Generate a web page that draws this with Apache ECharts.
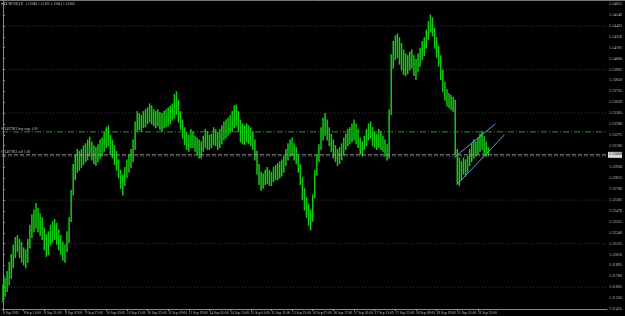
<!DOCTYPE html>
<html><head><meta charset="utf-8">
<script src="https://cdn.jsdelivr.net/npm/echarts@6/dist/echarts.min.js"></script>
<style>html,body{margin:0;padding:0;background:#000;}#c{width:625px;height:316px;}</style>
</head><body><div id="c"></div>
<script>
const symbolTitle = '\u25BE EURUSD,H1  1.13048 1.13105 1.13041 1.13060';

const xLabels = ['8 Sep 2015','8 Sep 11:00','8 Sep 21:00','9 Sep 07:00','9 Sep 17:00','10 Sep 03:00',
  '10 Sep 13:00','10 Sep 23:00','11 Sep 09:00','11 Sep 19:00','14 Sep 05:00','14 Sep 15:00',
  '15 Sep 01:00','15 Sep 11:00','15 Sep 21:00','16 Sep 07:00','16 Sep 17:00','17 Sep 03:00',
  '17 Sep 13:00','17 Sep 23:00','18 Sep 09:00','18 Sep 19:00','21 Sep 05:00','21 Sep 15:00'];

const highs = [
1.1169,1.1176,1.1183,1.1193,1.1201,1.1211,1.1219,1.1221,1.1217,1.1214,
1.1208,1.1206,1.1217,1.1232,1.1243,1.1248,1.1255,1.1250,1.1244,1.1240,
1.1229,1.1222,1.1225,1.1232,1.1236,1.1238,1.1234,1.1227,1.1221,1.1214,
1.1211,1.1225,1.1240,1.1269,1.1296,1.1306,1.1312,1.1310,1.1312,1.1316,
1.1318,1.1322,1.1325,1.1320,1.1316,1.1314,1.1317,1.1322,1.1324,1.1330,
1.1335,1.1337,1.1327,1.1322,1.1316,1.1310,1.1301,1.1290,1.1285,1.1293,
1.1301,1.1306,1.1312,1.1322,1.1341,1.1352,1.1350,1.1348,1.1352,1.1354,
1.1356,1.1360,1.1358,1.1354,1.1352,1.1354,1.1351,1.1350,1.1352,1.1354,
1.1356,1.1358,1.1360,1.1370,1.1373,1.1364,1.1352,1.1343,1.1335,1.1330,
1.1327,1.1333,1.1331,1.1326,1.1324,1.1322,1.1320,1.1326,1.1333,1.1331,
1.1327,1.1328,1.1335,1.1333,1.1330,1.1333,1.1337,1.1341,1.1343,1.1345,
1.1348,1.1352,1.1358,1.1359,1.1352,1.1343,1.1339,1.1337,1.1339,1.1337,
1.1335,1.1331,1.1322,1.1310,1.1296,1.1288,1.1286,1.1290,1.1293,1.1290,
1.1288,1.1293,1.1295,1.1297,1.1299,1.1301,1.1305,1.1312,1.1318,1.1322,
1.1324,1.1318,1.1314,1.1306,1.1296,1.1282,1.1271,1.1261,1.1254,1.1248,
1.1264,1.1290,1.1306,1.1317,1.1335,1.1345,1.1350,1.1343,1.1335,1.1328,
1.1322,1.1316,1.1312,1.1314,1.1318,1.1324,1.1328,1.1333,1.1335,1.1339,
1.1343,1.1339,1.1333,1.1324,1.1320,1.1326,1.1333,1.1339,1.1341,1.1335,
1.1331,1.1328,1.1333,1.1331,1.1326,1.1322,1.1317,1.1354,1.1412,1.1426,
1.1432,1.1434,1.1430,1.1424,1.1417,1.1413,1.1411,1.1415,1.1417,1.1411,
1.1407,1.1413,1.1419,1.1426,1.1430,1.1438,1.1447,1.1454,1.1451,1.1440,
1.1430,1.1421,1.1411,1.1396,1.1383,1.1375,1.1371,1.1369,1.1367,1.1364,
1.1312,1.1303,1.1299,1.1303,1.1301,1.1305,1.1312,1.1318,1.1322,1.1320,
1.1324,1.1328,1.1331,1.1326,1.1320,1.1314];

const lows = [
1.1151,1.1157,1.1162,1.1169,1.1176,1.1187,1.1198,1.1204,1.1198,1.1193,
1.1190,1.1187,1.1193,1.1208,1.1219,1.1225,1.1229,1.1225,1.1221,1.1217,
1.1206,1.1199,1.1201,1.1211,1.1214,1.1217,1.1212,1.1206,1.1201,1.1195,
1.1193,1.1204,1.1214,1.1236,1.1264,1.1280,1.1288,1.1290,1.1293,1.1296,
1.1299,1.1301,1.1305,1.1301,1.1297,1.1295,1.1299,1.1303,1.1305,1.1310,
1.1314,1.1316,1.1307,1.1303,1.1296,1.1290,1.1282,1.1271,1.1264,1.1274,
1.1282,1.1288,1.1293,1.1299,1.1312,1.1331,1.1333,1.1331,1.1335,1.1336,
1.1339,1.1341,1.1339,1.1337,1.1335,1.1337,1.1333,1.1331,1.1335,1.1336,
1.1337,1.1339,1.1343,1.1345,1.1349,1.1341,1.1333,1.1324,1.1317,1.1312,
1.1310,1.1314,1.1314,1.1310,1.1307,1.1303,1.1303,1.1310,1.1314,1.1312,
1.1312,1.1314,1.1317,1.1316,1.1312,1.1314,1.1318,1.1322,1.1324,1.1327,
1.1329,1.1331,1.1335,1.1337,1.1331,1.1320,1.1318,1.1317,1.1320,1.1318,
1.1316,1.1312,1.1301,1.1286,1.1275,1.1269,1.1271,1.1275,1.1276,1.1274,
1.1274,1.1278,1.1280,1.1280,1.1282,1.1284,1.1288,1.1295,1.1301,1.1305,
1.1306,1.1301,1.1297,1.1288,1.1275,1.1259,1.1248,1.1240,1.1232,1.1227,
1.1236,1.1261,1.1285,1.1299,1.1312,1.1322,1.1327,1.1322,1.1316,1.1310,
1.1303,1.1299,1.1295,1.1297,1.1301,1.1306,1.1312,1.1316,1.1318,1.1320,
1.1322,1.1318,1.1314,1.1307,1.1305,1.1312,1.1316,1.1322,1.1324,1.1316,
1.1314,1.1312,1.1314,1.1312,1.1310,1.1305,1.1301,1.1303,1.1349,1.1398,
1.1407,1.1409,1.1402,1.1396,1.1391,1.1390,1.1392,1.1396,1.1398,1.1390,
1.1386,1.1394,1.1400,1.1407,1.1411,1.1419,1.1428,1.1436,1.1432,1.1419,
1.1409,1.1400,1.1386,1.1373,1.1364,1.1358,1.1356,1.1354,1.1352,1.1307,
1.1276,1.1274,1.1280,1.1286,1.1284,1.1288,1.1295,1.1299,1.1303,1.1305,
1.1307,1.1310,1.1312,1.1307,1.1305,1.1306];

const yTicks = [1.11435,1.11550,1.11665,1.11780,1.11895,1.12010,1.12125,1.12240,1.12355,1.12470,
  1.12585,1.12700,1.12815,1.12930,1.13045,1.13160,1.13275,1.13390,1.13505,1.13620,
  1.13735,1.13850,1.13965,1.14080,1.14195,1.14310,1.14425,1.14540,1.14655];
const yStep = 0.00115;
const yMax = 1.14688;

const orderBuyStop = { price: 1.13306, text: '#23497963 buy stop 1.00' };
const orderSell = { price: 1.13063, text: '#23497962 sell 1.00' };
const bidLabel = '1.13060';

// trend channel: [bar index, price]
const channelUpper = [[218.3, 1.13032], [238.5, 1.13391]];
const channelLower = [[219.7, 1.12746], [242.8, 1.13274]];

const N_SLOTS = 293;
const LABEL_EVERY = 10;

const cats = Array.from({ length: N_SLOTS }, (_, i) => String(i));
const barData = highs.map((h, i) => [i, lows[i], h]);
const gridPrices = yTicks.filter((_, k) => k % 4 === 2);

const green = '#12cc12';
const tinyFont = 'Liberation Sans Narrow';
const chart = echarts.init(document.getElementById('c'), null, { renderer: 'canvas' });

function hLine(p) { return [[-0.5, p], [N_SLOTS - 0.5, p]]; }

const series = [];
gridPrices.forEach(p => series.push({
  type: 'line', xAxisIndex: 1, data: hLine(p), symbol: 'none', silent: true, z: 1,
  lineStyle: { color: '#3a3a3a', type: [1, 2], width: 1 }
}));
series.push({
  type: 'custom', xAxisIndex: 1, data: barData, z: 3,
  encode: { x: 0, y: [1, 2] },
  renderItem: (params, api) => {
    const p1 = api.coord([api.value(0), api.value(1)]);
    const p2 = api.coord([api.value(0), api.value(2)]);
    return { type: 'line', shape: { x1: p1[0], y1: p1[1] + 0.5, x2: p2[0], y2: p2[1] - 0.5 },
      style: { stroke: green, lineWidth: 1.5 } };
  }
});
series.push({
  type: 'line', xAxisIndex: 1, data: hLine(orderBuyStop.price), symbol: 'none', silent: true, z: 4,
  lineStyle: { color: '#1a9a1a', type: [6, 2, 1, 2], width: 1 }
});
series.push({
  type: 'line', xAxisIndex: 1, data: hLine(orderSell.price), symbol: 'none', silent: true, z: 4,
  lineStyle: { color: '#9a9a9a', type: [4, 2], width: 1 }
});
series.push({ type: 'line', xAxisIndex: 1, data: channelUpper, symbol: 'none', silent: true, z: 5,
  lineStyle: { color: '#5e9fe0', width: 1 } });
series.push({ type: 'line', xAxisIndex: 1, data: channelLower, symbol: 'none', silent: true, z: 5,
  lineStyle: { color: '#5e9fe0', width: 1 } });

chart.setOption({
  animation: false,
  backgroundColor: '#000000',
  grid: { left: 0, right: 13, top: 1, bottom: 7, containLabel: false },
  xAxis: [
    {
      type: 'category', data: cats, boundaryGap: true, position: 'bottom',
      axisLine: { lineStyle: { color: '#8a8a8a', width: 1 } },
      axisTick: { show: true, alignWithLabel: true, length: 2, lineStyle: { color: '#8a8a8a' },
        interval: (i) => i % LABEL_EVERY === 0 && i / LABEL_EVERY < xLabels.length },
      axisLabel: {
        interval: (i) => i % LABEL_EVERY === 0 && i / LABEL_EVERY < xLabels.length,
        formatter: (v, i) => xLabels[i / LABEL_EVERY] || '',
        color: '#c0c0c0', fontSize: 3.6, fontFamily: tinyFont, align: 'left', margin: 2
      },
      splitLine: { show: false }
    },
    { type: 'value', min: -0.5, max: N_SLOTS - 0.5, show: false }
  ],
  yAxis: {
    type: 'value', position: 'right', min: yTicks[0], max: yMax, interval: yStep,
    axisLine: { show: true, lineStyle: { color: '#8a8a8a', width: 1 } },
    axisTick: { show: true, length: 2, lineStyle: { color: '#8a8a8a' } },
    axisLabel: { formatter: (v) => v.toFixed(5), color: '#c0c0c0', fontSize: 4, fontFamily: tinyFont,
      margin: 2, showMaxLabel: false },
    splitLine: { show: false }
  },
  series: series
});

// labels placed through the axis scales
const yBuy = chart.convertToPixel({ yAxisIndex: 0 }, orderBuyStop.price);
const ySell = chart.convertToPixel({ yAxisIndex: 0 }, orderSell.price);
const xEnd = chart.convertToPixel({ xAxisIndex: 1 }, N_SLOTS - 0.5);
chart.setOption({
  graphic: [
    { type: 'line', shape: { x1: 0, y1: 0.5, x2: 625, y2: 0.5 }, style: { stroke: '#7a7a7a', lineWidth: 1 } },
    { type: 'text', x: 1, y: 2, style: { text: symbolTitle, fill: '#c0c0c0', fontSize: 3.6, fontFamily: tinyFont } },
    { type: 'text', x: 1, y: yBuy - 4.5, style: { text: orderBuyStop.text, fill: '#c0c0c0', fontSize: 3.6, fontFamily: tinyFont } },
    { type: 'text', x: 1, y: ySell - 4.5, style: { text: orderSell.text, fill: '#c0c0c0', fontSize: 3.6, fontFamily: tinyFont } },
    { type: 'rect', z: 50, shape: { x: xEnd + 1, y: ySell - 3, width: 14, height: 6 }, style: { fill: '#d8d8d8' } },
    { type: 'text', z: 51, x: xEnd + 2, y: ySell - 2.5, style: { text: bidLabel, fill: '#000', fontSize: 4, fontFamily: tinyFont } }
  ]
});
</script>
</body></html>
